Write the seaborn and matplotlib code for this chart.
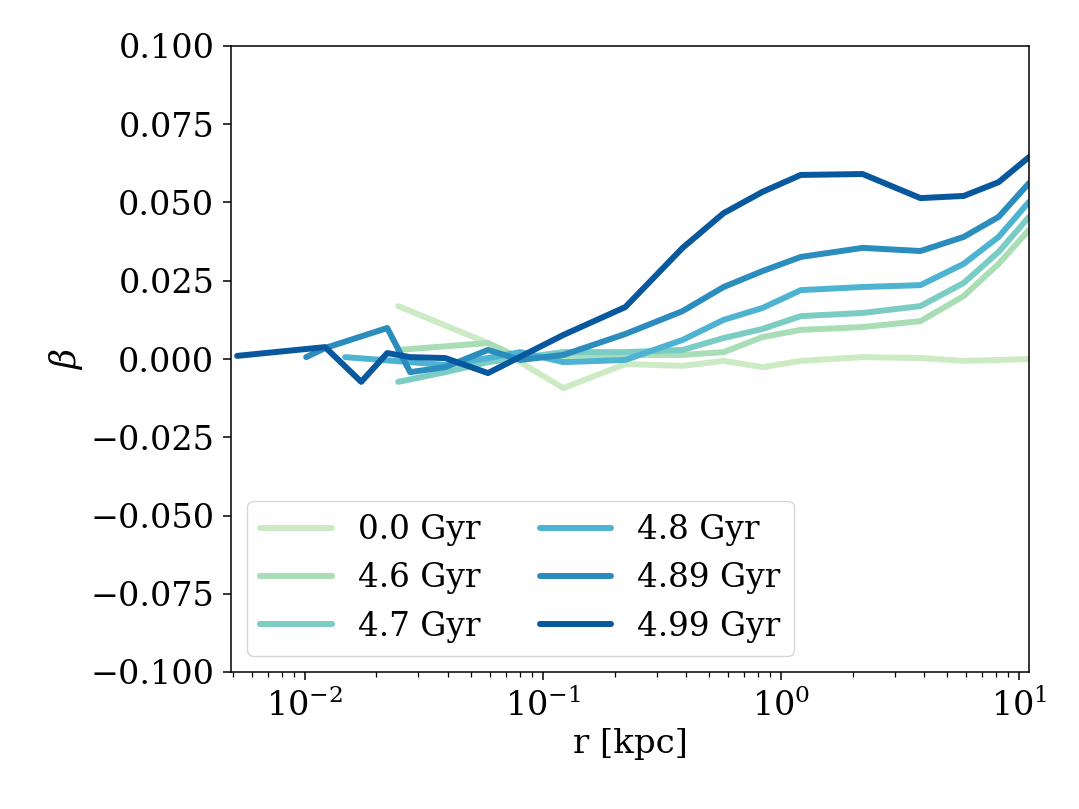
import numpy as np
import pandas as pd
import matplotlib
matplotlib.use("Agg")
import matplotlib.pyplot as plt
import seaborn as sns

# --- Data -------------------------------------------------------------------------------------

labels = ["0.0 Gyr", "4.6 Gyr", "4.7 Gyr", "4.8 Gyr", "4.89 Gyr", "4.99 Gyr"]
colors = ["#ccebc5", "#a8ddb5", "#7bccc4", "#4eb3d3", "#2b8cbe", "#08589e"]

r_00 = [0.0247, 0.0588, 0.122, 0.222, 0.386, 0.574, 0.836, 1.21, 2.20, 3.85, 5.85, 8.20, 11.0]
beta_00 = [0.0169, 0.0051, -0.0093, -0.0016, -0.0022, -0.0006, -0.0026, -0.0006, 0.0006,
           0.0003, -0.0006, -0.0003, 0.0000]

r_46 = [0.0247, 0.0588, 0.0804, 0.122, 0.222, 0.386, 0.574, 0.836, 1.21, 2.20, 3.85, 5.85,
        8.20, 11.0]
beta_46 = [0.0029, 0.0051, 0.0003, 0.0010, 0.0013, 0.0013, 0.0022, 0.0070, 0.0093, 0.0102,
           0.0121, 0.0201, 0.0304, 0.0412]

r_47 = [0.0247, 0.0389, 0.0588, 0.122, 0.222, 0.386, 0.574, 0.836, 1.21, 2.20, 3.85, 5.85,
        8.20, 11.0]
beta_47 = [-0.0073, -0.0042, -0.0010, 0.0022, 0.0022, 0.0029, 0.0067, 0.0096, 0.0137, 0.0147,
           0.0169, 0.0243, 0.0342, 0.0454]

r_48 = [0.01479, 0.0277, 0.0389, 0.0588, 0.0804, 0.122, 0.222, 0.386, 0.574, 0.836, 1.21,
        2.20, 3.85, 5.85, 8.20, 11.0]
beta_48 = [0.0006, -0.0010, -0.0019, 0.0003, 0.0022, -0.0010, -0.0003, 0.0061, 0.0125, 0.0163,
           0.0220, 0.0230, 0.0236, 0.0304, 0.0390, 0.0502]

r_489 = [0.01014, 0.01217, 0.0222, 0.0277, 0.0389, 0.0588, 0.0804, 0.122, 0.222, 0.386, 0.574,
         0.836, 1.21, 2.20, 3.85, 5.85, 8.20, 11.0]
beta_489 = [0.0006, 0.0035, 0.0099, -0.0042, -0.0026, 0.0029, -0.0003, 0.0013, 0.0080, 0.0153,
            0.0230, 0.0281, 0.0326, 0.0355, 0.0345, 0.0390, 0.0454, 0.0562]

r_499 = [0.0052, 0.01217, 0.01726, 0.0222, 0.0277, 0.0389, 0.0588, 0.122, 0.222, 0.386, 0.574,
         0.836, 1.21, 2.20, 3.85, 5.85, 8.20, 11.0]
beta_499 = [0.0010, 0.0038, -0.0073, 0.0019, 0.0006, 0.0003, -0.0045, 0.0077, 0.0166, 0.0355,
            0.0466, 0.0534, 0.0588, 0.0591, 0.0514, 0.0521, 0.0565, 0.0645]

radii = [r_00, r_46, r_47, r_48, r_489, r_499]
betas = [beta_00, beta_46, beta_47, beta_48, beta_489, beta_499]

# long-form table for seaborn
frames = []
for lab, r, b in zip(labels, radii, betas):
    frames.append(pd.DataFrame({"r": r, "beta": b, "snapshot": lab}))
df = pd.concat(frames, ignore_index=True)


def fmt_beta(v, pos):
    v = round(v, 3)
    if v == 0:
        v = 0.0
    return f"{v:.3f}".replace("-", "\u2212")


# --- Plot -------------------------------------------------------------------------------------

sns.set_style("ticks", {
    "axes.edgecolor": "black",
    "xtick.color": "black",
    "ytick.color": "black",
    "text.color": "black",
    "axes.labelcolor": "black",
})
plt.rcParams["font.family"] = ["DejaVu Serif"]
plt.rcParams["mathtext.fontset"] = "dejavuserif"

fig = plt.figure(figsize=(10.79, 8.09), dpi=100)
ax = fig.add_axes([231 / 1079, 137 / 809, 798 / 1079, 626 / 809])

sns.lineplot(data=df, x="r", y="beta", hue="snapshot", hue_order=labels, palette=colors,
             estimator=None, sort=False, linewidth=4.3, ax=ax)

ax.set_xscale("log")
ax.set_xlim(0.0049, 11.0)
ax.set_ylim(-0.1, 0.1)
ax.set_yticks(np.linspace(-0.1, 0.1, 9))
ax.yaxis.set_major_formatter(plt.FuncFormatter(fmt_beta))

ax.set_xlabel("r [kpc]", fontsize=24.5)
ax.set_ylabel(r"$\beta$", fontsize=25)
ax.tick_params(axis="both", which="major", labelsize=24, length=6, width=1.1, pad=6)
ax.tick_params(axis="x", which="minor", length=3.5, width=0.9)
for sp in ax.spines.values():
    sp.set_linewidth(1.1)

ax.legend(loc="lower left", ncol=2, fontsize=23.5, handlelength=2.2, columnspacing=1.8,
          framealpha=0.8, edgecolor="#cccccc")

plt.savefig("out.png", dpi=100)
plt.close()
